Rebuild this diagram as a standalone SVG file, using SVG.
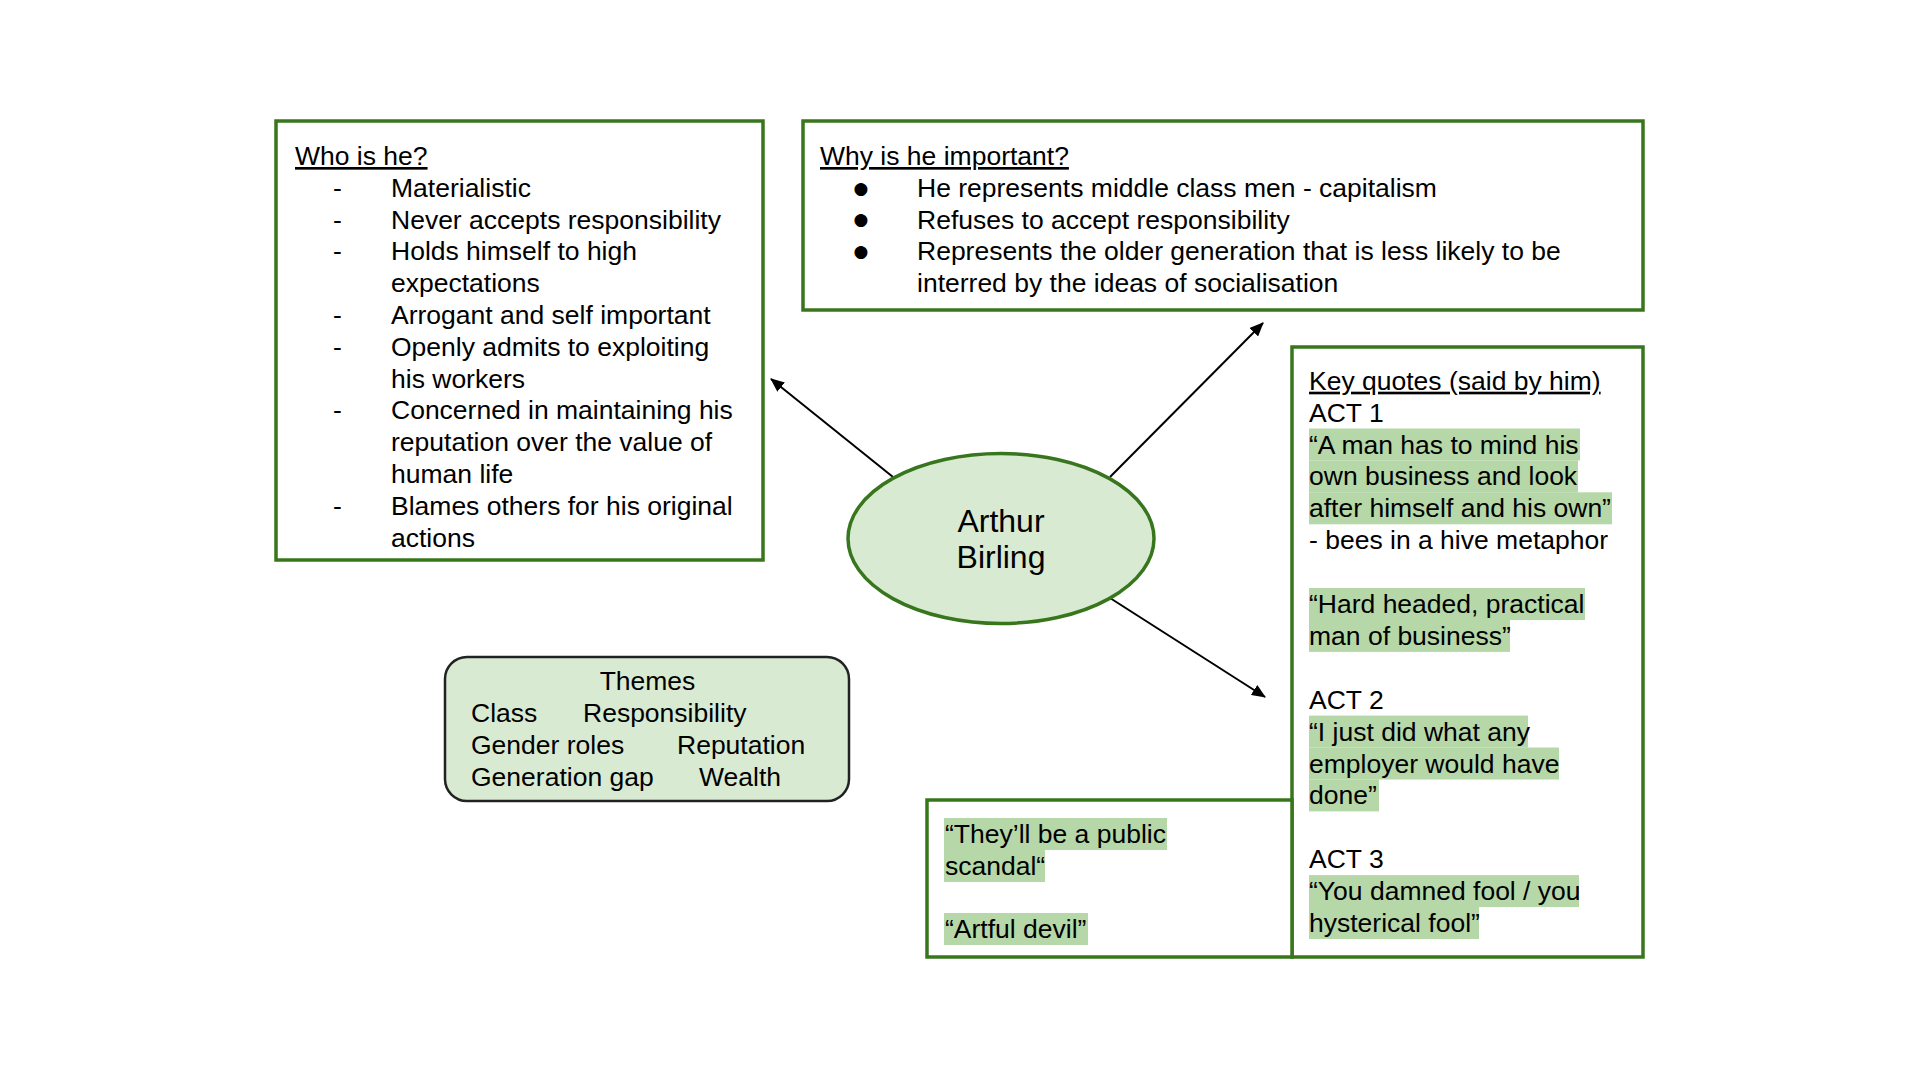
<svg xmlns="http://www.w3.org/2000/svg" width="1920" height="1080" viewBox="0 0 1920 1080">
  <style>
    text { font-family: "Liberation Sans", Arial, sans-serif; font-size: 26.5px; fill: #000; }
    .box { fill: #ffffff; stroke: #38761d; stroke-width: 3.5; }
    .hl { fill: #b6d7a8; }
    .ul { text-decoration: underline; }
    .bul { font-family: "DejaVu Sans", "Liberation Sans", sans-serif; font-size: 17px; }
    .center { font-size: 32px; text-anchor: middle; }
    .conn { stroke: #000; stroke-width: 2; fill: none; marker-end: url(#arrow); }
  </style>
  <defs>
    <marker id="arrow" markerUnits="userSpaceOnUse" markerWidth="14" markerHeight="12" refX="13" refY="6" orient="auto">
      <path d="M0,0 L14,6 L0,12 Z" fill="#000"/>
    </marker>
  </defs>
  <rect width="1920" height="1080" fill="#ffffff"/>

  <g id="connectors">
    <line class="conn" x1="893" y1="477" x2="771" y2="379"/>
    <line class="conn" x1="1110" y1="477" x2="1263" y2="323"/>
    <line class="conn" x1="1110" y1="598" x2="1265" y2="697"/>
  </g>

  <g id="node-who">
    <rect class="box" x="276" y="121" width="487" height="439"/>
    <text x="295" y="165" class="ul">Who is he?</text>
    <text x="333" y="196.8">-</text><text x="391" y="196.8">Materialistic</text>
    <text x="333" y="228.6">-</text><text x="391" y="228.6">Never accepts responsibility</text>
    <text x="333" y="260.4">-</text><text x="391" y="260.4">Holds himself to high</text>
    <text x="391" y="292.2">expectations</text>
    <text x="333" y="324">-</text><text x="391" y="324">Arrogant and self important</text>
    <text x="333" y="355.8">-</text><text x="391" y="355.8">Openly admits to exploiting</text>
    <text x="391" y="387.6">his workers</text>
    <text x="333" y="419.4">-</text><text x="391" y="419.4">Concerned in maintaining his</text>
    <text x="391" y="451.2">reputation over the value of</text>
    <text x="391" y="483">human life</text>
    <text x="333" y="514.8">-</text><text x="391" y="514.8">Blames others for his original</text>
    <text x="391" y="546.6">actions</text>
  </g>

  <g id="node-why">
    <rect class="box" x="803" y="121" width="840" height="189"/>
    <text x="820" y="165" class="ul">Why is he important?</text>
    <text x="861" y="193.5" class="bul" text-anchor="middle">●</text>
    <text x="917" y="196.8">He represents middle class men - capitalism</text>
    <text x="861" y="225.3" class="bul" text-anchor="middle">●</text>
    <text x="917" y="228.6">Refuses to accept responsibility</text>
    <text x="861" y="257.1" class="bul" text-anchor="middle">●</text>
    <text x="917" y="260.4">Represents the older generation that is less likely to be</text>
    <text x="917" y="292.2">interred by the ideas of socialisation</text>
  </g>

  <g id="node-center">
    <ellipse cx="1001" cy="538.5" rx="153" ry="85" fill="#d9ead3" stroke="#38761d" stroke-width="3.5"/>
    <text x="1001" y="532" class="center">Arthur</text>
    <text x="1001" y="568" class="center">Birling</text>
  </g>

  <g id="node-quotes">
    <rect class="box" x="1292" y="347" width="351" height="610"/>
    <rect class="hl" x="1309" y="428.5" width="271" height="32"/>
    <rect class="hl" x="1309" y="460.4" width="269" height="32"/>
    <rect class="hl" x="1309" y="492.3" width="303" height="32"/>
    <rect class="hl" x="1309" y="588" width="276" height="32"/>
    <rect class="hl" x="1309" y="619.9" width="201" height="32"/>
    <rect class="hl" x="1309" y="715.6" width="219" height="32"/>
    <rect class="hl" x="1309" y="747.5" width="250" height="32"/>
    <rect class="hl" x="1309" y="779.4" width="70" height="32"/>
    <rect class="hl" x="1309" y="875.1" width="270" height="32"/>
    <rect class="hl" x="1309" y="907" width="170" height="32"/>
    <text x="1309" y="389.7" class="ul">Key quotes (said by him)</text>
    <text x="1309" y="421.6">ACT 1</text>
    <text x="1309" y="453.5">“A man has to mind his</text>
    <text x="1309" y="485.4">own business and look</text>
    <text x="1309" y="517.3">after himself and his own”</text>
    <text x="1309" y="549.2">- bees in a hive metaphor</text>
    <text x="1309" y="613">“Hard headed, practical</text>
    <text x="1309" y="644.9">man of business”</text>
    <text x="1309" y="708.7">ACT 2</text>
    <text x="1309" y="740.6">“I just did what any</text>
    <text x="1309" y="772.5">employer would have</text>
    <text x="1309" y="804.4">done”</text>
    <text x="1309" y="868.2">ACT 3</text>
    <text x="1309" y="900.1">“You damned fool / you</text>
    <text x="1309" y="932">hysterical fool”</text>
  </g>

  <g id="node-quotes2">
    <rect class="box" x="927" y="800" width="365" height="157"/>
    <rect class="hl" x="944" y="818" width="223" height="32"/>
    <rect class="hl" x="944" y="850" width="101" height="32"/>
    <rect class="hl" x="944" y="913" width="144" height="32"/>
    <text x="945" y="843">“They’ll be a public</text>
    <text x="945" y="875">scandal“</text>
    <text x="945" y="938">“Artful devil”</text>
  </g>

  <g id="node-themes">
    <rect x="445" y="657" width="404" height="144" rx="22" ry="22" fill="#d9ead3" stroke="#222222" stroke-width="2.5"/>
    <text x="647.5" y="690" text-anchor="middle">Themes</text>
    <text x="471" y="722">Class</text>
    <text x="583" y="722">Responsibility</text>
    <text x="471" y="754">Gender roles</text>
    <text x="677" y="754">Reputation</text>
    <text x="471" y="786">Generation gap</text>
    <text x="699" y="786">Wealth</text>
  </g>
</svg>
